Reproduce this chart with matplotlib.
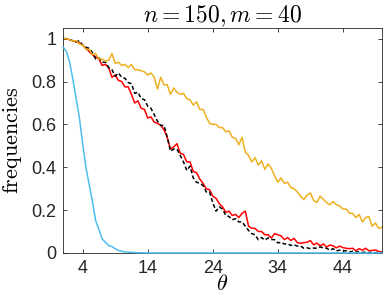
import numpy as np
import matplotlib
matplotlib.use("Agg")
import matplotlib.pyplot as plt

plt.rcParams['mathtext.fontset'] = 'cm'
plt.rcParams['font.family'] = ['Liberation Sans', 'DejaVu Sans']

theta = np.arange(1, 50.01, 0.5)

blue = [0.96, 0.94, 0.89, 0.81, 0.72, 0.63, 0.51, 0.40, 0.32, 0.24,
        0.15, 0.11, 0.065, 0.05, 0.035, 0.03, 0.02, 0.012, 0.008, 0.005,
        0.004, 0.003, 0.002, 0.001, 0.001, 0.0005] + [0.0] * 73

orange = [1.0, 1.0, 0.995, 0.99, 0.99, 0.975, 0.97, 0.95, 0.95, 0.925,
          0.93, 0.905, 0.905, 0.895, 0.90, 0.93, 0.885, 0.89, 0.875, 0.88,
          0.865, 0.88, 0.855, 0.855, 0.85, 0.845, 0.83, 0.84, 0.82, 0.765,
          0.82, 0.785, 0.785, 0.74, 0.77, 0.75, 0.74, 0.745, 0.72, 0.715,
          0.69, 0.705, 0.67, 0.67, 0.635, 0.605, 0.60, 0.60, 0.585, 0.585,
          0.565, 0.57, 0.54, 0.535, 0.505, 0.54, 0.47, 0.455, 0.425, 0.445,
          0.41, 0.43, 0.39, 0.415, 0.395, 0.36, 0.33, 0.35, 0.325, 0.33,
          0.305, 0.30, 0.285, 0.265, 0.25, 0.27, 0.28, 0.245, 0.235, 0.265,
          0.25, 0.235, 0.225, 0.24, 0.225, 0.22, 0.205, 0.205, 0.185, 0.185,
          0.165, 0.18, 0.145, 0.165, 0.17, 0.125, 0.14, 0.115, 0.12]

red = [1.0, 1.0, 0.995, 0.99, 0.985, 0.98, 0.97, 0.955, 0.94, 0.925,
       0.915, 0.905, 0.875, 0.88, 0.865, 0.82, 0.83, 0.805, 0.80, 0.775,
       0.775, 0.74, 0.70, 0.71, 0.675, 0.67, 0.63, 0.635, 0.61, 0.605,
       0.595, 0.575, 0.54, 0.485, 0.495, 0.51, 0.465, 0.46, 0.425, 0.425,
       0.38, 0.375, 0.345, 0.325, 0.30, 0.295, 0.265, 0.255, 0.23, 0.215,
       0.19, 0.195, 0.175, 0.18, 0.165, 0.185, 0.195, 0.125, 0.115, 0.115,
       0.10, 0.10, 0.085, 0.085, 0.07, 0.09, 0.085, 0.08, 0.062, 0.072,
       0.058, 0.068, 0.048, 0.045, 0.048, 0.05, 0.058, 0.038, 0.046, 0.033,
       0.042, 0.028, 0.037, 0.033, 0.024, 0.032, 0.025, 0.022, 0.02, 0.022,
       0.01, 0.02, 0.013, 0.022, 0.01, 0.012, 0.014, 0.007, 0.005]

black = [1.0, 1.0, 0.995, 0.99, 0.985, 0.99, 0.97, 0.96, 0.955, 0.935,
         0.905, 0.91, 0.89, 0.89, 0.865, 0.855, 0.825, 0.84, 0.82, 0.815,
         0.795, 0.79, 0.745, 0.75, 0.72, 0.715, 0.685, 0.675, 0.645, 0.615,
         0.595, 0.595, 0.54, 0.475, 0.485, 0.485, 0.455, 0.425, 0.385, 0.405,
         0.35, 0.33, 0.325, 0.315, 0.285, 0.285, 0.235, 0.195, 0.215, 0.205,
         0.175, 0.17, 0.155, 0.16, 0.145, 0.145, 0.125, 0.105, 0.09, 0.085,
         0.062, 0.072, 0.06, 0.07, 0.063, 0.062, 0.047, 0.05, 0.042, 0.043,
         0.035, 0.038, 0.032, 0.032, 0.022, 0.024, 0.02, 0.023, 0.022, 0.028,
         0.024, 0.022, 0.013, 0.02, 0.01, 0.013, 0.01, 0.01, 0.004, 0.008,
         0.003, 0.006, 0.002, 0.005, 0.001, 0.004, 0.001, 0.002, 0.002]

xticks = [4, 14, 24, 34, 44]
yticks = [0, 0.2, 0.4, 0.6, 0.8, 1]
ytick_labels = ['0', '0.2', '0.4', '0.6', '0.8', '1']

fig = plt.figure(figsize=(3.85, 3.07), dpi=100)
ax = fig.add_axes([0.164, 0.176, 0.828, 0.733])

lw = 1.1
ax.plot(theta, red, color='#FF0000', lw=lw)
ax.plot(theta, black, color='black', lw=lw, dashes=(2.6, 1.6))
ax.plot(theta, orange, color='#EDB120', lw=lw)
ax.plot(theta, blue, color='#4DBEEE', lw=lw, clip_on=False, zorder=5)

ax.set_xlim(1, 50)
ax.set_ylim(0, 1.05)
ax.set_xticks(xticks)
ax.set_yticks(yticks)
ax.set_yticklabels(ytick_labels)
ax.tick_params(direction='in', top=True, right=True, length=3, width=0.6,
               color='#262626', labelsize=13, labelcolor='#262626', pad=5)
for s in ax.spines.values():
    s.set_linewidth(0.6)
    s.set_color('#262626')

ax.set_title(r'$n = 150, m = 40$', fontsize=17, pad=4)
ax.set_xlabel(r'$\theta$', fontsize=16, labelpad=-2)
ax.set_ylabel(r'$\mathrm{frequencies}$', fontsize=16, labelpad=5)

fig.savefig('out.png', dpi=100)
